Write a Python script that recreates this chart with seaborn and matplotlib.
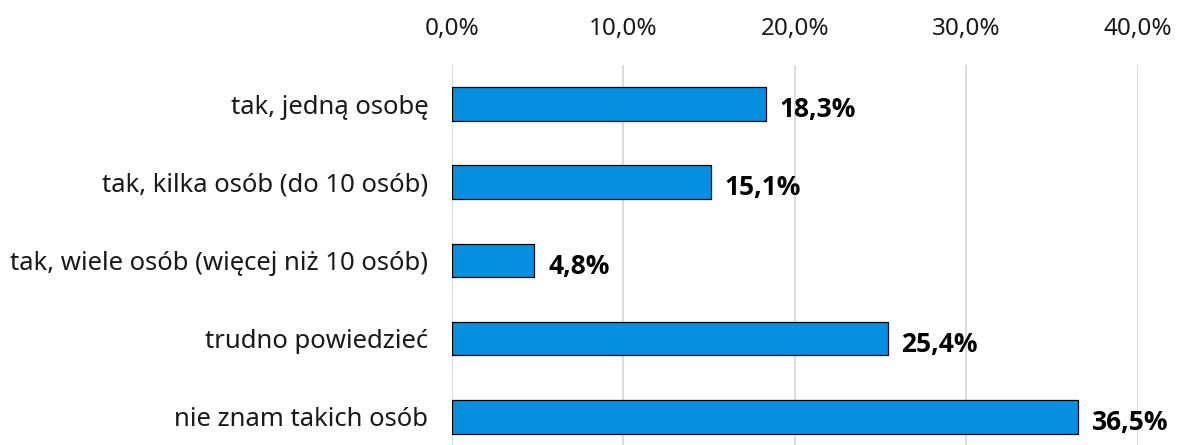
import pandas as pd
import seaborn as sns
import matplotlib.pyplot as plt
from matplotlib.ticker import FuncFormatter

# Data
categories = ["tak, jedną osobę", "tak, kilka osób (do 10 osób)",
              "tak, wiele osób (więcej niż 10 osób)", "trudno powiedzieć",
              "nie znam takich osób"]
values = [18.3, 15.1, 4.8, 25.4, 36.5]
x_ticks = [0, 10, 20, 30, 40]

df = pd.DataFrame({'kategoria': categories, 'procent': values})

sns.set_theme(style='white')
plt.rcParams['font.family'] = ['Noto Sans', 'DejaVu Sans']

fig = plt.figure(figsize=(11.8, 4.45), dpi=100)
ax = fig.add_axes([0.383, 0.0, 0.5814, 0.854])

sns.barplot(data=df, x='procent', y='kategoria', order=categories,
            color='#068FE0', saturation=1, width=0.43,
            edgecolor='black', linewidth=0.9, ax=ax, zorder=3)

ax.set_xlim(0, 40)
ax.set_ylim(4.36, -0.5)
ax.set_xticks(x_ticks)
ax.xaxis.set_major_formatter(FuncFormatter(lambda v, p: f"{v:.1f}%".replace('.', ',')))
ax.xaxis.tick_top()
ax.tick_params(axis='x', length=0, pad=17, labelsize=17.5, colors='#1a1a1a')
ax.tick_params(axis='y', length=0, pad=17, labelsize=18.5, colors='#1a1a1a')
ax.grid(axis='x', color='#d9d9d9', linewidth=1.3, zorder=0)
ax.set_xlabel('')
ax.set_ylabel('')
for s in ax.spines.values():
    s.set_visible(False)

# Value labels
for i, v in enumerate(values):
    ax.annotate(f"{v:.1f}%".replace('.', ','), xy=(v, i), xytext=(10, -4),
                textcoords='offset points', va='center', ha='left',
                fontsize=19, fontweight='bold', color='black',
                family=['Open Sans', 'DejaVu Sans'])

plt.savefig('out.png', dpi=100)
